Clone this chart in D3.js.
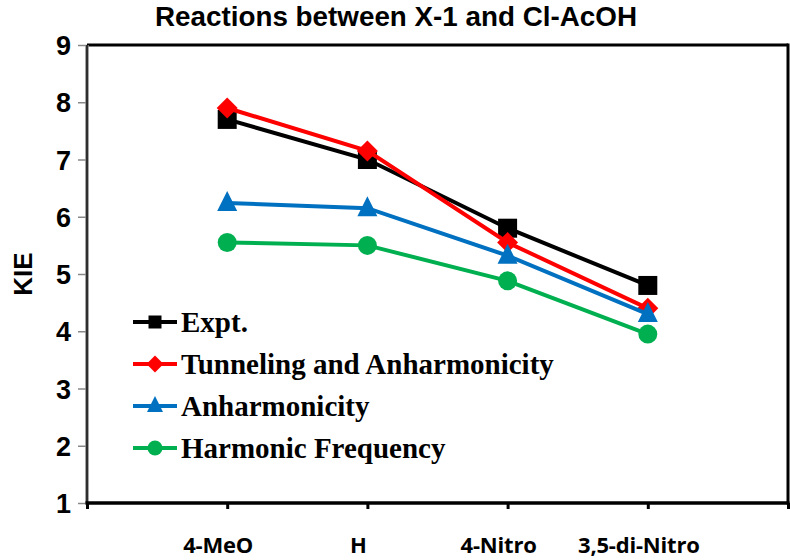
<!DOCTYPE html>
<html><head><meta charset="utf-8">
<script src="https://cdn.jsdelivr.net/npm/d3@7"></script>
<style>html,body{margin:0;padding:0;background:#fff;}</style>
</head><body>
<svg id="chart" width="790" height="560"></svg>
<script>
const categories = ["4-MeO", "H", "4-Nitro", "3,5-di-Nitro"];
const expt = [7.7, 7.0, 5.8, 4.8];
const tunneling = [7.9, 7.15, 5.55, 4.4];
const anharmonicity = [6.24, 6.15, 5.32, 4.3];
const harmonic = [5.55, 5.5, 4.88, 3.95];
const yTicks = [1, 2, 3, 4, 5, 6, 7, 8, 9];
const seriesNames = ["Expt.", "Tunneling and Anharmonicity", "Anharmonicity", "Harmonic Frequency"];
const seriesColors = ["#000000", "#FF0000", "#0070C0", "#00B050"];
const seriesShapes = ["square", "diamond", "triangle", "circle"];
const title = "Reactions between X-1 and Cl-AcOH";
const yLabel = "KIE";

const svg = d3.select("#chart");
const L = 87, R = 788, T = 45, B = 503;

const x = d3.scaleLinear().domain([0, categories.length + 1]).range([L, R]);
const y = d3.scaleLinear().domain([1, 9]).range([B, T]);

// title
svg.append("text").attr("x", 396).attr("y", 26).attr("text-anchor", "middle")
  .style("font-family", "Liberation Sans, Arial, sans-serif").style("font-weight", "bold")
  .style("font-size", "27px").attr("textLength", 482).attr("lengthAdjust", "spacingAndGlyphs").text(title);

// y axis
const yAxis = d3.axisLeft(y).tickValues(yTicks).tickSize(9).tickPadding(7).tickFormat(d3.format("d"));
const gy = svg.append("g").attr("transform", `translate(${L},0)`).call(yAxis);
gy.select(".domain").remove();
gy.selectAll(".tick line").attr("stroke", "#888").attr("stroke-width", 1.5);
gy.selectAll(".tick text").style("font-family", "Liberation Sans, Arial, sans-serif")
  .style("font-weight", "bold").style("font-size", "27px").attr("fill", "#000").attr("dy", "0.36em");

// x axis
const xAxis = d3.axisBottom(x).tickValues(d3.range(0, categories.length + 2)).tickSize(6).tickFormat("");
const gx = svg.append("g").attr("transform", `translate(0,${B})`).call(xAxis);
gx.select(".domain").remove();
gx.selectAll(".tick line").attr("stroke", "#000").attr("stroke-width", 3);

// x labels
svg.append("g").selectAll("text").data(categories).join("text")
  .attr("x", (d, i) => x(i + 1) - 9).attr("y", 553).attr("text-anchor", "middle")
  .style("font-family", "Open Sans, sans-serif").style("font-weight", "bold")
  .style("font-size", "22px").style("letter-spacing", "-0.2px").text(d => d);

// frame
svg.append("line").attr("x1", L).attr("x2", R).attr("y1", T).attr("y2", T).attr("stroke", "#000").attr("stroke-width", 3);
svg.append("line").attr("x1", R).attr("x2", R).attr("y1", T - 1.5).attr("y2", B + 1.5).attr("stroke", "#000").attr("stroke-width", 3);
svg.append("line").attr("x1", L).attr("x2", L).attr("y1", T).attr("y2", B).attr("stroke", "#888").attr("stroke-width", 3.5);
svg.append("line").attr("x1", L).attr("x2", L).attr("y1", T).attr("y2", B).attr("stroke", "#111").attr("stroke-width", 1.5);
svg.append("line").attr("x1", L - 1.5).attr("x2", R + 1.5).attr("y1", B).attr("y2", B).attr("stroke", "#000").attr("stroke-width", 3.5);

// y label
svg.append("text").attr("transform", `translate(32,${(T + B) / 2}) rotate(-90)`)
  .attr("text-anchor", "middle")
  .style("font-family", "Liberation Sans, Arial, sans-serif").style("font-weight", "bold")
  .style("font-size", "26px").text(yLabel);

function markerPath(shape, s) {
  const h = s / 2;
  if (shape === "square") return `M${-h},${-h}H${h}V${h}H${-h}Z`;
  if (shape === "diamond") return `M0,${-h}L${h},0L0,${h}L${-h},0Z`;
  if (shape === "triangle") return `M0,${-h}L${h},${h}L${-h},${h}Z`;
  return d3.symbol(d3.symbolCircle, Math.PI * h * h)();
}

const allSeries = [expt, tunneling, anharmonicity, harmonic];
const line = d3.line().x((d, i) => x(i + 1)).y(d => y(d));
const markerSizes = [19, 21, 20, 19];

allSeries.forEach((vals, k) => {
  const g = svg.append("g");
  g.append("path").datum(vals).attr("d", line).attr("fill", "none")
    .attr("stroke", seriesColors[k]).attr("stroke-width", 4);
  g.selectAll("path.m").data(vals).join("path").attr("class", "m")
    .attr("transform", (d, i) => `translate(${x(i + 1)},${y(d) - (seriesShapes[k] === "triangle" ? 2 : 0)})`)
    .attr("d", markerPath(seriesShapes[k], markerSizes[k])).attr("fill", seriesColors[k]);
});

// legend
const legendY = [322, 364, 406, 448];
const legendMarker = [13, 17, 16, 15];
const lg = svg.append("g");
seriesNames.forEach((name, k) => {
  const yy = legendY[k];
  lg.append("line").attr("x1", 133).attr("x2", 177).attr("y1", yy).attr("y2", yy)
    .attr("stroke", seriesColors[k]).attr("stroke-width", 4);
  lg.append("path").attr("transform", `translate(155,${yy - (k === 2 ? 2 : 0)})`)
    .attr("d", markerPath(seriesShapes[k], legendMarker[k])).attr("fill", seriesColors[k]);
  lg.append("text").attr("x", 181).attr("y", yy + 10)
    .style("font-family", "Liberation Serif, Times New Roman, serif").style("font-weight", "bold")
    .style("font-size", "29px").text(name);
});
</script>
</body></html>
